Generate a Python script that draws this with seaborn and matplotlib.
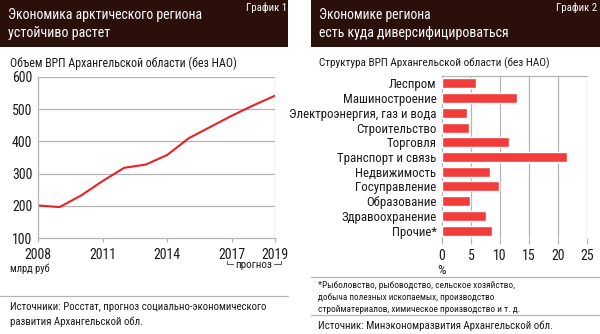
import matplotlib
matplotlib.use("Agg")
import matplotlib.pyplot as plt
from matplotlib.patches import Rectangle
from matplotlib.lines import Line2D
import seaborn as sns
import pandas as pd

# ---- data ----
years = [2008, 2009, 2010, 2011, 2012, 2013, 2014, 2015, 2016, 2017, 2018, 2019]
grp_values = [201, 196, 232, 277, 318, 328, 358, 410, 445, 480, 512, 542]
year_ticks = [2008, 2011, 2014, 2017, 2019]
grp_ticks = [100, 200, 300, 400, 500, 600]

sectors = ["Леспром", "Машиностроение", "Электроэнергия, газ и вода", "Строительство",
           "Торговля", "Транспорт и связь", "Недвижимость", "Госуправление",
           "Образование", "Здравоохранение", "Прочие*"]
shares = [5.9, 12.9, 4.3, 4.7, 11.6, 21.5, 8.3, 9.8, 4.9, 7.5, 8.6]
share_ticks = [0, 5, 10, 15, 20, 25]

sns.set_theme(style="white")
FONT = ["Roboto Condensed", "DejaVu Sans"]
plt.rcParams["font.family"] = FONT

W, H = 600, 334
fig = plt.figure(figsize=(6.0, 3.34), dpi=100)
fig.patch.set_facecolor("white")
renderer = fig.canvas.get_renderer()


def fx(px):
    return px / W


def fy(py):
    return 1 - py / H


def ftext(x, y, s, width, ha="left", color="#1a1a1a"):
    t = fig.text(fx(x), fy(y), s, fontsize=10, color=color, va="center", ha=ha)
    w = t.get_window_extent(renderer).width
    t.set_fontsize(10 * width / w)
    return t


HEAD = "#2a0f0b"
GRID = "#b5b5b5"
TXT = "#1a1a1a"
LINE_RED = "#e8212b"
BAR_RED = "#f23c3c"

# headers
fig.add_artist(Rectangle((fx(0), fy(47)), fx(288), 47 / H, transform=fig.transFigure,
                         facecolor=HEAD, edgecolor="none"))
fig.add_artist(Rectangle((fx(311), fy(47)), fx(289), 47 / H, transform=fig.transFigure,
                         facecolor=HEAD, edgecolor="none"))
ftext(8, 15, "Экономика арктического региона", 195, color="white")
ftext(8, 33, "устойчиво растет", 102, color="white")
ftext(287, 8, "График 1", 41, ha="right", color="white")
ftext(319, 15, "Экономике региона", 112, color="white")
ftext(319, 33, "есть куда диверсифицироваться", 190, color="white")
ftext(597, 8, "График 2", 41, ha="right", color="white")

# ---- left chart ----
axL = fig.add_axes([fx(38), fy(238), fx(237), 161 / H])
df_line = pd.DataFrame({"year": years, "value": grp_values})
sns.lineplot(data=df_line, x="year", y="value", color=LINE_RED, linewidth=1.5, ax=axL)
axL.set_xlim(2008, 2019)
axL.set_ylim(100, 600)
axL.set_xticks(year_ticks)
axL.set_yticks(grp_ticks)
axL.set_xlabel("")
axL.set_ylabel("")
axL.grid(False)
for v in grp_ticks[1:]:
    axL.axhline(v, color=GRID, linewidth=0.9, zorder=0)
axL.axvline(2019, color=GRID, linewidth=0.9, zorder=0)
for s in ["top", "right"]:
    axL.spines[s].set_visible(False)
for s in ["left", "bottom"]:
    axL.spines[s].set_color(GRID)
    axL.spines[s].set_linewidth(0.9)
axL.tick_params(axis="x", length=3, width=0.9, color=GRID, labelsize=10, labelcolor=TXT,
                pad=4.5, bottom=True)
axL.tick_params(axis="y", length=0, labelsize=10, labelcolor=TXT, pad=4)
ftext(10, 63, "Объем ВРП Архангельской области (без НАО)", 227)
ftext(10, 269, "млрд руб", 40)

# forecast bracket
tr = axL.get_xaxis_transform()
axL.text(2018, -0.168, "прогноз", transform=tr, fontsize=8, color=TXT, ha="center",
         va="center", clip_on=False)
for xs in ([2016.75, 2016.75, 2017.05], [2019.27, 2019.27, 2018.95]):
    axL.add_line(Line2D(xs, [-0.141, -0.161, -0.161], transform=tr, color="#555555",
                        linewidth=0.7, clip_on=False))

fig.add_artist(Line2D([fx(0), fx(288)], [fy(296), fy(296)], transform=fig.transFigure,
                      color=GRID, linewidth=0.9))
ftext(10, 307, "Источники: Росстат, прогноз социально-экономического", 258)
ftext(10, 322, "развития Архангельской обл.", 133)

# ---- right chart ----
axR = fig.add_axes([fx(442), fy(238), fx(145), 162 / H])
df_bar = pd.DataFrame({"sector": sectors, "share": shares})
sns.barplot(data=df_bar, x="share", y="sector", color=BAR_RED, saturation=1, width=0.68,
            ax=axR, zorder=3)
axR.set_xlim(0, 25)
axR.set_ylim(len(sectors) - 0.5, -0.5)
axR.set_xticks(share_ticks)
axR.set_xlabel("")
axR.set_ylabel("")
axR.grid(False)
for v in share_ticks[1:]:
    axR.axvline(v, color=GRID, linewidth=0.9, zorder=0)
axR.spines["right"].set_visible(False)
axR.spines["bottom"].set_visible(False)
for s in ["top", "left"]:
    axR.spines[s].set_color(GRID)
    axR.spines[s].set_linewidth(0.9)
axR.tick_params(axis="x", length=4, width=0.9, color=GRID, labelsize=10, labelcolor=TXT,
                pad=4, bottom=True)
axR.tick_params(axis="y", length=0, labelsize=9.3, labelcolor=TXT, pad=4)
ftext(319, 63, "Структура ВРП Архангельской области (без НАО)", 230)
fig.text(fx(442), fy(270), "%", fontsize=9.5, color=TXT, va="center", ha="center")

fig.add_artist(Line2D([fx(311), fx(600)], [fy(277), fy(277)], transform=fig.transFigure,
                      color=GRID, linewidth=0.9))
ftext(318, 286, "*Рыболовство, рыбоводство, сельское хозяйство,", 197)
ftext(318, 297.5, "добыча полезных ископаемых, производство", 178)
ftext(318, 309, "стройматериалов, химическое производство и т. д.", 203)
fig.add_artist(Line2D([fx(311), fx(600)], [fy(315), fy(315)], transform=fig.transFigure,
                      color=GRID, linewidth=0.9))
ftext(318, 326, "Источник: Минэкономразвития Архангельской обл.", 237)

fig.savefig("out.png", dpi=100, facecolor="white")
